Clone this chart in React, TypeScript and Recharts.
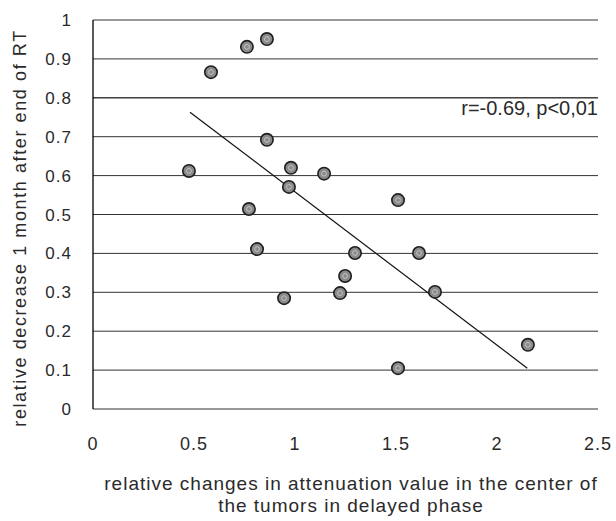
import React from "react"
import {
  ScatterChart,
  Scatter,
  XAxis,
  YAxis,
  CartesianGrid,
  ReferenceLine,
} from "recharts"

// values
const ATTENUATION_CHANGE = [
  0.475, 0.584, 0.762, 0.861, 0.772, 0.812, 0.861, 0.98, 0.97, 0.946,
  1.144, 1.297, 1.248, 1.223, 1.51, 1.614, 1.693, 1.51, 2.153,
]
const RELATIVE_DECREASE = [
  0.612, 0.866, 0.931, 0.951, 0.514, 0.411, 0.692, 0.62, 0.571, 0.285,
  0.605, 0.401, 0.342, 0.298, 0.537, 0.401, 0.301, 0.105, 0.165,
]
const TREND_X = [0.48, 2.15]
const TREND_Y = [0.763, 0.105]
const X_TICKS = [0, 0.5, 1, 1.5, 2, 2.5]
const Y_TICKS = [0, 0.1, 0.2, 0.3, 0.4, 0.5, 0.6, 0.7, 0.8, 0.9, 1]
const ANNOTATION = "r=-0.69, p<0,01"
const X_TITLE = [
  "relative changes in attenuation value in the center of",
  "the tumors in delayed phase",
]
const Y_TITLE = "relative decrease 1 month after end of RT"

const points = ATTENUATION_CHANGE.map((x, i) => ({ x, y: RELATIVE_DECREASE[i] }))

const FONT = '"Liberation Sans", Arial, sans-serif'
const INK = "#2a2a2a"

function Dot(props: any) {
  const { cx, cy } = props
  return (
    <g>
      <circle cx={cx} cy={cy} r={6.2} fill="#8a8a8a" stroke="#1e1e1e" strokeWidth={1.6} />
      <circle cx={cx} cy={cy} r={2.4} fill="none" stroke="#cfcfcf" strokeWidth={0.8} />
    </g>
  )
}

export default function App() {
  return (
    <div style={{ position: "absolute", left: 0, top: 0, width: 616, height: 521, background: "#fff" }}>
      <ScatterChart
        width={616}
        height={521}
        margin={{ top: 20, right: 18, bottom: 0, left: 0 }}
        style={{ fontFamily: FONT }}
      >
        <CartesianGrid vertical={false} horizontal stroke="#333" strokeWidth={1} />
        <XAxis
          type="number"
          dataKey="x"
          domain={[0, 2.5]}
          ticks={X_TICKS}
          axisLine={false}
          tickLine={false}
          tickMargin={22}
          height={112}
          tick={{ fill: INK, fontSize: 18, letterSpacing: 1 }}
          label={{
            content: () => (
              <g>
                {X_TITLE.map((t, i) => (
                  <text
                    key={i}
                    x={351}
                    y={483 + i * 22}
                    textAnchor="middle"
                    dominantBaseline="central"
                    fill={INK}
                    fontSize={19}
                    letterSpacing={1}
                    fontFamily={FONT}
                  >
                    {t}
                  </text>
                ))}
              </g>
            ),
          }}
        />
        <YAxis
          type="number"
          dataKey="y"
          domain={[0, 1]}
          ticks={Y_TICKS}
          width={93}
          axisLine={{ stroke: "#000", strokeWidth: 1.3 }}
          tickLine={false}
          tickMargin={15}
          tick={{ fill: INK, fontSize: 17, letterSpacing: 1 }}
          label={{
            content: () => (
              <text
                x={20}
                y={228}
                transform="rotate(-90, 20, 228)"
                textAnchor="middle"
                dominantBaseline="central"
                fill={INK}
                fontSize={18}
                letterSpacing={1.6}
                fontFamily={FONT}
              >
                {Y_TITLE}
              </text>
            ),
          }}
        />
        <ReferenceLine
          y={0.8}
          stroke="#333"
          label={{
            value: ANNOTATION,
            position: "insideTopRight",
            offset: 3,
            fill: INK,
            fontSize: 20,
            dx: 3,
          }}
        />
        <ReferenceLine
          segment={[
            { x: TREND_X[0], y: TREND_Y[0] },
            { x: TREND_X[1], y: TREND_Y[1] },
          ]}
          stroke="#111"
          strokeWidth={1.2}
        />
        <Scatter data={points} shape={<Dot />} isAnimationActive={false} />
      </ScatterChart>
    </div>
  )
}
